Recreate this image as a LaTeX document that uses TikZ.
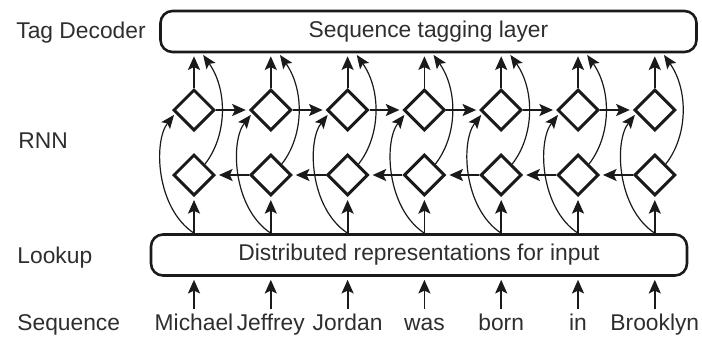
\documentclass[tikz,border=0pt]{standalone}
\usepackage{fontspec}
\setmainfont{Liberation Sans}
\usetikzlibrary{positioning,arrows.meta,shapes.geometric,calc}
\definecolor{inkline}{HTML}{1A1A1A}
\definecolor{inktext}{HTML}{2E2E2E}

\begin{document}
\begin{tikzpicture}[
    x=0.5pt, y=-0.5pt,
    font=\fontsize{11.4}{13}\selectfont,
    text=inktext,
    layer/.style={draw=inkline,line width=1.3pt,rounded corners=6pt,
                  minimum width=268pt,minimum height=20.5pt,inner sep=0pt},
    cell/.style ={draw=inkline,diamond,line width=1.5pt,minimum size=20.5pt,inner sep=0pt},
    lbl/.style  ={anchor=base west,inner sep=0pt},
    word/.style ={anchor=base,text height=8pt,text depth=2pt,inner sep=2.5pt},
    arr/.style  ={draw=inkline,line width=0.9pt,
                  -{Stealth[length=6.8pt,width=6pt,inset=1.4pt]},shorten >=1.5pt},
    skip/.style ={draw=inkline,line width=0.6pt,
                  -{Stealth[length=6.8pt,width=5.5pt,inset=1.4pt]},shorten >=1pt},
    ]
    \useasboundingbox (0,0) rectangle (702,338);

    % the two wide layers
    \node[layer] (tag)  at (428.5,31.5) {Sequence tagging layer};
    \node[layer] (look) at (419,255)    {Distributed representations for input};

    % row labels on the left
    \node[lbl] (ltag) at (16,38)  {Tag Decoder};
    \node[lbl] (lrnn) at (18,148) {RNN};
    \node[lbl] (llook) at (17,263) {Lookup};
    \node[lbl] (lseq) at (17,330) {Sequence};

    % one column per input word: forward cell, backward cell, word
    \foreach \w [count=\i] in {Michael,Jeffrey,Jordan,was,born,in,Brooklyn} {
      \pgfmathsetmacro{\colx}{194+76.8*(\i-1)}
      \node[cell] (t\i) at (\colx,110) {};
      \node[cell] (b\i) at (\colx,175) {};
      \node[word] (w\i) at (\colx,330) {\w};
    }

    \foreach \i in {1,...,7} {
      \draw[arr] (w\i.north) -- (w\i |- look.south);
      \draw[arr] (b\i |- look.north) -- (b\i.south);
      \draw[arr] (t\i.north) -- (t\i |- tag.south);
      % lookup straight into the forward cell, backward cell up to the decoder
      \draw[skip] (b\i |- look.north) .. controls +(-38,-25) and +(-22,28) .. (t\i.190);
      \draw[skip] (b\i.north east) .. controls +(22,-28) and +(26,37) .. ($(t\i |- tag.south)+(8,0)$);
    }

    % forward chain left to right, backward chain right to left
    \foreach \i [evaluate=\i as \j using int(\i+1)] in {1,...,6} {
      \draw[arr] (t\i.east) -- (t\j.west);
      \draw[arr] (b\j.west) -- (b\i.east);
    }
  \end{tikzpicture}
\end{document}
